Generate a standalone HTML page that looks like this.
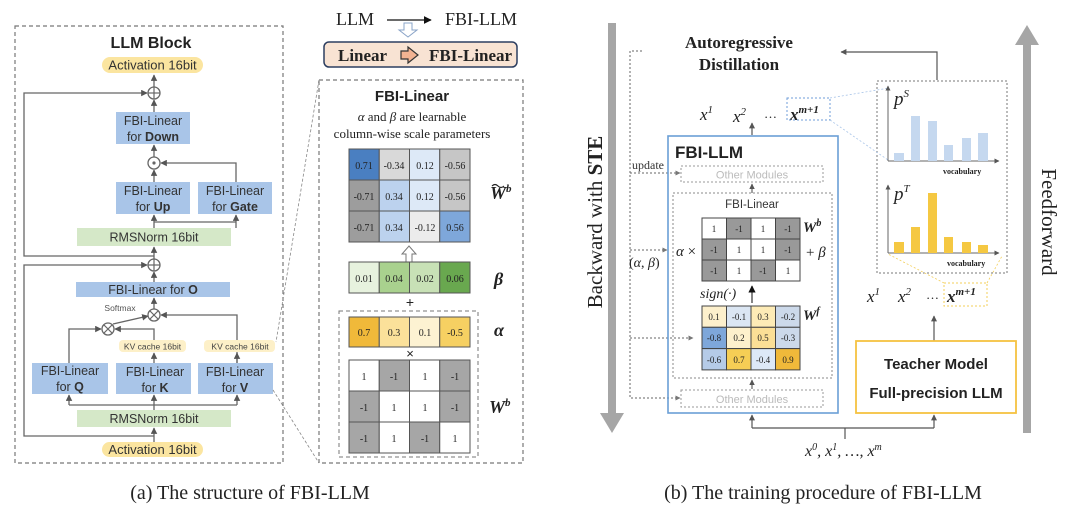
<!DOCTYPE html>
<html><head><meta charset="utf-8"><style>
html,body{margin:0;padding:0;background:#fff;}
svg{display:block;}
.s{font-family:"Liberation Sans","DejaVu Sans",sans-serif;}
.r{font-family:"Liberation Serif",serif;}
</style></head><body>
<svg width="1080" height="511" viewBox="0 0 1080 511" xmlns="http://www.w3.org/2000/svg">
<defs>
<marker id="a" viewBox="0 0 10 10" refX="9" refY="5" markerWidth="5" markerHeight="5" orient="auto"><path d="M0,0L10,5L0,10z" fill="#555"/></marker>
<marker id="ab" viewBox="0 0 10 10" refX="9" refY="5" markerWidth="6" markerHeight="6" orient="auto"><path d="M0,0L10,5L0,10z" fill="#111"/></marker>
<marker id="ag" viewBox="0 0 10 10" refX="9" refY="5" markerWidth="5" markerHeight="5" orient="auto"><path d="M0,0L10,5L0,10z" fill="#777"/></marker>
</defs>

<!-- ===== (a) left block ===== -->
<rect x="15" y="26" width="268" height="437" fill="none" stroke="#777" stroke-width="1.2" stroke-dasharray="4,3"/>
<text x="151" y="48" text-anchor="middle" class="s" font-size="16" font-weight="bold" fill="#222">LLM Block</text>

<g stroke="#666" stroke-width="1.3" fill="none">
<line x1="154" y1="87" x2="154" y2="75" marker-end="url(#a)"/>
<line x1="154" y1="112" x2="154" y2="100" marker-end="url(#a)"/>
<line x1="154" y1="157" x2="154" y2="145" marker-end="url(#a)"/>
<line x1="154" y1="182" x2="154" y2="170" marker-end="url(#a)"/>
<polyline points="236,182 236,163 161,163" marker-end="url(#a)"/>
<line x1="154" y1="228" x2="154" y2="215" marker-end="url(#a)"/>
<line x1="154" y1="222" x2="236" y2="222"/>
<line x1="236" y1="228" x2="236" y2="215" marker-end="url(#a)"/>
<line x1="154" y1="259" x2="154" y2="247" marker-end="url(#a)"/>
<polyline points="154,256 24,256 24,93 147,93" marker-end="url(#a)"/>
<line x1="154" y1="282" x2="154" y2="272" marker-end="url(#a)"/>
<line x1="154" y1="309" x2="154" y2="298" marker-end="url(#a)"/>
<polyline points="237,363 237,315 161,315" marker-end="url(#a)"/>
<polyline points="154,340 154,329 115,329" marker-end="url(#a)"/>
<polyline points="69,363 69,329 101,329" marker-end="url(#a)"/>
<line x1="113" y1="324" x2="148" y2="316" marker-end="url(#a)"/>
<line x1="154" y1="363" x2="154" y2="353" marker-end="url(#a)"/>
<line x1="237" y1="363" x2="237" y2="353" marker-end="url(#a)"/>
<line x1="69" y1="405" x2="237" y2="405"/>
<line x1="69" y1="405" x2="69" y2="395" marker-end="url(#a)"/>
<line x1="154" y1="410" x2="154" y2="395" marker-end="url(#a)"/>
<line x1="237" y1="405" x2="237" y2="395" marker-end="url(#a)"/>
<line x1="154" y1="442" x2="154" y2="428" marker-end="url(#a)"/>
<polyline points="154,436 24,436 24,265 147,265" marker-end="url(#a)"/>
</g>
<g stroke="#666" stroke-width="1.3" fill="#fff">
<circle cx="154" cy="93" r="6"/><circle cx="154" cy="163" r="6"/><circle cx="154" cy="265" r="6"/>
<circle cx="154" cy="315" r="6"/><circle cx="108" cy="329" r="6"/>
</g>
<g stroke="#666" stroke-width="1.2">
<line x1="148" y1="93" x2="160" y2="93"/><line x1="154" y1="87" x2="154" y2="99"/>
<line x1="148" y1="265" x2="160" y2="265"/><line x1="154" y1="259" x2="154" y2="271"/>
<line x1="150" y1="311" x2="158" y2="319"/><line x1="158" y1="311" x2="150" y2="319"/>
<line x1="104" y1="325" x2="112" y2="333"/><line x1="112" y1="325" x2="104" y2="333"/>
</g>
<circle cx="154" cy="163" r="1.6" fill="#666"/>

<rect x="102" y="57" width="101" height="16" rx="8" fill="#fbe5a0"/>
<text x="152.5" y="69.5" text-anchor="middle" class="s" font-size="13" fill="#333">Activation 16bit</text>
<rect x="102" y="442" width="101" height="15" rx="7.5" fill="#fbe5a0"/>
<text x="152.5" y="454" text-anchor="middle" class="s" font-size="13" fill="#333">Activation 16bit</text>

<g fill="#a9c5e8">
<rect x="116" y="112" width="74" height="32"/>
<rect x="116" y="182" width="74" height="32"/>
<rect x="198" y="182" width="74" height="32"/>
<rect x="76" y="282" width="154" height="15"/>
<rect x="32" y="363" width="76" height="31"/>
<rect x="116" y="363" width="75" height="31"/>
<rect x="198" y="363" width="75" height="31"/>
</g>
<g class="s" font-size="12.5" fill="#333" text-anchor="middle">
<text x="153" y="125">FBI-Linear</text><text x="153" y="141">for <tspan font-weight="bold">Down</tspan></text>
<text x="153" y="195">FBI-Linear</text><text x="153" y="211">for <tspan font-weight="bold">Up</tspan></text>
<text x="235" y="195">FBI-Linear</text><text x="235" y="211">for <tspan font-weight="bold">Gate</tspan></text>
<text x="153" y="294">FBI-Linear for <tspan font-weight="bold">O</tspan></text>
<text x="70" y="375">FBI-Linear</text><text x="70" y="391">for <tspan font-weight="bold">Q</tspan></text>
<text x="155" y="376">FBI-Linear</text><text x="155" y="392">for <tspan font-weight="bold">K</tspan></text>
<text x="235" y="376">FBI-Linear</text><text x="235" y="392">for <tspan font-weight="bold">V</tspan></text>
</g>
<rect x="77" y="228" width="154" height="18" fill="#d5e8c8"/>
<rect x="77" y="410" width="154" height="17" fill="#d5e8c8"/>
<g class="s" font-size="12.5" fill="#333" text-anchor="middle">
<text x="154" y="241.5">RMSNorm 16bit</text><text x="154" y="423">RMSNorm 16bit</text>
</g>
<text x="120" y="311" text-anchor="middle" class="s" font-size="8.5" fill="#555">Softmax</text>
<rect x="119" y="340" width="67" height="12" rx="4" fill="#fdf0c8"/>
<rect x="204" y="340" width="71" height="12" rx="4" fill="#fdf0c8"/>
<g class="s" font-size="8.5" fill="#444" text-anchor="middle">
<text x="152.5" y="349.5">KV cache 16bit</text><text x="240" y="349.5">KV cache 16bit</text>
</g>

<g stroke="#888" stroke-width="0.8" stroke-dasharray="3,2">
<line x1="319" y1="80" x2="276" y2="342"/>
<line x1="273" y1="390" x2="319" y2="463"/>
</g>

<text x="336" y="25" class="r" font-size="18" fill="#222">LLM</text>
<line x1="387" y1="20" x2="431" y2="20" stroke="#111" stroke-width="1.3" marker-end="url(#ab)"/>
<text x="445" y="25" class="r" font-size="18" fill="#222">FBI-LLM</text>
<path d="M404,23 h8 v7 h5 l-9,7 l-9,-7 h5z" fill="#fff" stroke="#8aa4c8" stroke-width="1"/>
<rect x="324" y="42" width="193" height="25" rx="5" fill="#f8e3d3" stroke="#2c3e60" stroke-width="1.5"/>
<text x="338" y="61" class="r" font-size="17" font-weight="bold" fill="#222">Linear</text>
<path d="M401,51 h7 v-4 l10,8 l-10,8 v-4 h-7z" fill="#f2b392" stroke="#333" stroke-width="1.2"/>
<text x="429" y="61" class="r" font-size="17" font-weight="bold" fill="#222">FBI-Linear</text>

<rect x="319" y="80" width="204" height="383" fill="none" stroke="#777" stroke-width="1.2" stroke-dasharray="4,3"/>
<text x="412" y="101" text-anchor="middle" class="s" font-size="15" font-weight="bold" fill="#222">FBI-Linear</text>
<text x="412" y="121" text-anchor="middle" class="r" font-size="13" fill="#222"><tspan font-style="italic">α</tspan> and <tspan font-style="italic">β</tspan> are learnable</text>
<text x="412" y="138" text-anchor="middle" class="r" font-size="13" fill="#222">column-wise scale parameters</text>

<g stroke="#555" stroke-width="1">
<rect x="349" y="149" width="30.25" height="31" fill="#4a7fc1"/>
<rect x="379.25" y="149" width="30.25" height="31" fill="#d9d9d9"/>
<rect x="409.5" y="149" width="30.25" height="31" fill="#dde9f7"/>
<rect x="439.75" y="149" width="30.25" height="31" fill="#c6c6c6"/>
<rect x="349" y="180" width="30.25" height="31" fill="#9d9d9d"/>
<rect x="379.25" y="180" width="30.25" height="31" fill="#bcd2ee"/>
<rect x="409.5" y="180" width="30.25" height="31" fill="#dde9f7"/>
<rect x="439.75" y="180" width="30.25" height="31" fill="#c6c6c6"/>
<rect x="349" y="211" width="30.25" height="31" fill="#9d9d9d"/>
<rect x="379.25" y="211" width="30.25" height="31" fill="#bcd2ee"/>
<rect x="409.5" y="211" width="30.25" height="31" fill="#ececec"/>
<rect x="439.75" y="211" width="30.25" height="31" fill="#7ea7da"/>
</g>
<g class="r" font-size="10" fill="#222" text-anchor="middle">
<text x="364" y="169">0.71</text><text x="394" y="169">-0.34</text><text x="425" y="169">0.12</text><text x="455" y="169">-0.56</text>
<text x="364" y="200">-0.71</text><text x="394" y="200">0.34</text><text x="425" y="200">0.12</text><text x="455" y="200">-0.56</text>
<text x="364" y="231">-0.71</text><text x="394" y="231">0.34</text><text x="425" y="231">-0.12</text><text x="455" y="231">0.56</text>
</g>
<text x="490" y="199" class="r" font-size="18" font-weight="bold" font-style="italic" fill="#222">W<tspan font-size="11" dy="-7">b</tspan></text>
<path d="M492,186 q3,-3 6,0 t6,0" fill="none" stroke="#222" stroke-width="1.2"/>
<path d="M406,262 v-8 h-4 l7,-8 l7,8 h-4 v8z" fill="#fff" stroke="#777" stroke-width="1"/>

<g stroke="#555" stroke-width="1">
<rect x="349" y="262" width="30.25" height="31" fill="#e7f2de"/>
<rect x="379.25" y="262" width="30.25" height="31" fill="#a9d18e"/>
<rect x="409.5" y="262" width="30.25" height="31" fill="#c8e1b6"/>
<rect x="439.75" y="262" width="30.25" height="31" fill="#69a84f"/>
</g>
<g class="r" font-size="10" fill="#222" text-anchor="middle">
<text x="364" y="282">0.01</text><text x="394" y="282">0.04</text><text x="425" y="282">0.02</text><text x="455" y="282">0.06</text>
</g>
<text x="494" y="285" class="r" font-size="18" font-weight="bold" font-style="italic" fill="#222">β</text>
<text x="410" y="307" text-anchor="middle" class="s" font-size="14" fill="#222">+</text>
<rect x="339" y="311" width="139" height="146" fill="none" stroke="#777" stroke-width="1" stroke-dasharray="4,3"/>
<g stroke="#555" stroke-width="1">
<rect x="349" y="317" width="30.25" height="30" fill="#f0b93a"/>
<rect x="379.25" y="317" width="30.25" height="30" fill="#fbe19a"/>
<rect x="409.5" y="317" width="30.25" height="30" fill="#fdf2d2"/>
<rect x="439.75" y="317" width="30.25" height="30" fill="#f6d062"/>
</g>
<g class="r" font-size="10" fill="#222" text-anchor="middle">
<text x="364" y="336">0.7</text><text x="394" y="336">0.3</text><text x="425" y="336">0.1</text><text x="455" y="336">-0.5</text>
</g>
<text x="494" y="336" class="r" font-size="18" font-weight="bold" font-style="italic" fill="#222">α</text>
<text x="410" y="358" text-anchor="middle" class="s" font-size="13" fill="#222">×</text>
<g stroke="#555" stroke-width="1">
<rect x="349" y="360" width="30.25" height="31" fill="#fff"/><rect x="379.25" y="360" width="30.25" height="31" fill="#a6a6a6"/><rect x="409.5" y="360" width="30.25" height="31" fill="#fff"/><rect x="439.75" y="360" width="30.25" height="31" fill="#a6a6a6"/>
<rect x="349" y="391" width="30.25" height="31" fill="#a6a6a6"/><rect x="379.25" y="391" width="30.25" height="31" fill="#fff"/><rect x="409.5" y="391" width="30.25" height="31" fill="#fff"/><rect x="439.75" y="391" width="30.25" height="31" fill="#a6a6a6"/>
<rect x="349" y="422" width="30.25" height="31" fill="#a6a6a6"/><rect x="379.25" y="422" width="30.25" height="31" fill="#fff"/><rect x="409.5" y="422" width="30.25" height="31" fill="#a6a6a6"/><rect x="439.75" y="422" width="30.25" height="31" fill="#fff"/>
</g>
<g class="r" font-size="10" fill="#222" text-anchor="middle">
<text x="364" y="380">1</text><text x="394" y="380">-1</text><text x="425" y="380">1</text><text x="455" y="380">-1</text>
<text x="364" y="411">-1</text><text x="394" y="411">1</text><text x="425" y="411">1</text><text x="455" y="411">-1</text>
<text x="364" y="442">-1</text><text x="394" y="442">1</text><text x="425" y="442">-1</text><text x="455" y="442">1</text>
</g>
<text x="489" y="413" class="r" font-size="18" font-weight="bold" font-style="italic" fill="#222">W<tspan font-size="11" dy="-7">b</tspan></text>

<text x="250" y="499" text-anchor="middle" class="r" font-size="20" fill="#222">(a) The structure of FBI-LLM</text>

<!-- ===== (b) ===== -->
<path d="M608,23 h8 v390 h8 l-12,20 l-12,-20 h8z" fill="#a6a6a6"/>
<text transform="translate(602,222) rotate(-90)" text-anchor="middle" class="r" font-size="21" fill="#222">Backward with <tspan font-weight="bold">STE</tspan></text>
<path d="M1023,433 h8 v-388 h8 l-12,-20 l-12,20 h8z" fill="#a6a6a6"/>
<text transform="translate(1042,222) rotate(90)" text-anchor="middle" class="r" font-size="21" fill="#222">Feedforward</text>

<text x="739" y="48" text-anchor="middle" class="r" font-size="17" font-weight="bold" fill="#222">Autoregressive</text>
<text x="739" y="70" text-anchor="middle" class="r" font-size="17" font-weight="bold" fill="#222">Distillation</text>
<polyline points="937,80 937,52 841,52" fill="none" stroke="#555" stroke-width="1.2" marker-end="url(#a)"/>

<g stroke="#666" stroke-width="1" stroke-dasharray="2,2" fill="none">
<polyline points="642,51 630,51 630,398 680,398" marker-end="url(#ag)"/>
<line x1="630" y1="173" x2="680" y2="173" marker-end="url(#ag)"/>
<line x1="630" y1="250" x2="667" y2="250" marker-end="url(#ag)"/>
<line x1="630" y1="338" x2="693" y2="338" marker-end="url(#ag)"/>
</g>
<text x="632" y="169" class="r" font-size="12" fill="#333">update</text>
<text x="629" y="267" class="r" font-size="14" fill="#222">(<tspan font-style="italic">α</tspan>, <tspan font-style="italic">β</tspan>)</text>

<g class="r" font-size="17" font-style="italic" fill="#222">
<text x="700" y="120">x<tspan font-size="11" dy="-7">1</tspan></text>
<text x="733" y="122">x<tspan font-size="11" dy="-7">2</tspan></text>
<text x="764" y="118" font-style="normal" font-size="13">…</text>
<text x="790" y="120" font-weight="bold">x<tspan font-size="11" dy="-7">m+1</tspan></text>
</g>
<rect x="787" y="98" width="43" height="22" fill="none" stroke="#6f9ed8" stroke-width="1" stroke-dasharray="2,2"/>
<line x1="752" y1="135" x2="752" y2="123" stroke="#555" stroke-width="1.2" marker-end="url(#a)"/>

<rect x="668" y="136" width="170" height="277" fill="none" stroke="#6a9fd6" stroke-width="1.6"/>
<text x="675" y="158" class="s" font-size="17" font-weight="bold" fill="#222">FBI-LLM</text>
<rect x="681" y="166" width="142" height="16" fill="none" stroke="#999" stroke-dasharray="2,2"/>
<text x="752" y="178.5" text-anchor="middle" class="s" font-size="11" fill="#bbb">Other Modules</text>
<line x1="752" y1="193" x2="752" y2="184" stroke="#555" stroke-width="1.1" marker-end="url(#a)"/>
<rect x="673" y="193" width="159" height="185" fill="none" stroke="#888" stroke-dasharray="2,2"/>
<text x="752" y="208" text-anchor="middle" class="s" font-size="11.5" fill="#333">FBI-Linear</text>
<g stroke="#444" stroke-width="1">
<rect x="702" y="218" width="24.5" height="21" fill="#fff"/><rect x="726.5" y="218" width="24.5" height="21" fill="#999"/><rect x="751" y="218" width="24.5" height="21" fill="#fff"/><rect x="775.5" y="218" width="24.5" height="21" fill="#999"/>
<rect x="702" y="239" width="24.5" height="21" fill="#999"/><rect x="726.5" y="239" width="24.5" height="21" fill="#fff"/><rect x="751" y="239" width="24.5" height="21" fill="#fff"/><rect x="775.5" y="239" width="24.5" height="21" fill="#999"/>
<rect x="702" y="260" width="24.5" height="21" fill="#999"/><rect x="726.5" y="260" width="24.5" height="21" fill="#fff"/><rect x="751" y="260" width="24.5" height="21" fill="#999"/><rect x="775.5" y="260" width="24.5" height="21" fill="#fff"/>
</g>
<g class="r" font-size="9" fill="#222" text-anchor="middle">
<text x="714" y="232">1</text><text x="739" y="232">-1</text><text x="763" y="232">1</text><text x="788" y="232">-1</text>
<text x="714" y="253">-1</text><text x="739" y="253">1</text><text x="763" y="253">1</text><text x="788" y="253">-1</text>
<text x="714" y="274">-1</text><text x="739" y="274">1</text><text x="763" y="274">-1</text><text x="788" y="274">1</text>
</g>
<text x="676" y="256" class="r" font-size="15" fill="#222"><tspan font-style="italic">α</tspan> ×</text>
<text x="803" y="232" class="r" font-size="15" font-weight="bold" font-style="italic" fill="#222">W<tspan font-size="10" dy="-6">b</tspan></text>
<text x="806" y="257" class="r" font-size="15" fill="#222">+ <tspan font-style="italic">β</tspan></text>
<text x="700" y="298" class="r" font-size="14" font-style="italic" fill="#222">sign(·)</text>
<line x1="752" y1="303" x2="752" y2="286" stroke="#333" stroke-width="1.2" marker-end="url(#ab)"/>
<g stroke="#444" stroke-width="1">
<rect x="702" y="306" width="24.5" height="21.3" fill="#fdf0cc"/><rect x="726.5" y="306" width="24.5" height="21.3" fill="#dbe6f3"/><rect x="751" y="306" width="24.5" height="21.3" fill="#fdebb6"/><rect x="775.5" y="306" width="24.5" height="21.3" fill="#ccd9ea"/>
<rect x="702" y="327.3" width="24.5" height="21.3" fill="#7ea7da"/><rect x="726.5" y="327.3" width="24.5" height="21.3" fill="#fdf0cc"/><rect x="751" y="327.3" width="24.5" height="21.3" fill="#fbdf96"/><rect x="775.5" y="327.3" width="24.5" height="21.3" fill="#ccd9ea"/>
<rect x="702" y="348.6" width="24.5" height="21.3" fill="#b5cbe8"/><rect x="726.5" y="348.6" width="24.5" height="21.3" fill="#f6ce55"/><rect x="751" y="348.6" width="24.5" height="21.3" fill="#dde9f7"/><rect x="775.5" y="348.6" width="24.5" height="21.3" fill="#f0b93a"/>
</g>
<g class="r" font-size="9" fill="#222" text-anchor="middle">
<text x="714" y="320">0.1</text><text x="739" y="320">-0.1</text><text x="763" y="320">0.3</text><text x="788" y="320">-0.2</text>
<text x="714" y="341">-0.8</text><text x="739" y="341">0.2</text><text x="763" y="341">0.5</text><text x="788" y="341">-0.3</text>
<text x="714" y="363">-0.6</text><text x="739" y="363">0.7</text><text x="763" y="363">-0.4</text><text x="788" y="363">0.9</text>
</g>
<text x="803" y="320" class="r" font-size="15" font-weight="bold" font-style="italic" fill="#222">W<tspan font-size="10" dy="-6">f</tspan></text>
<line x1="752" y1="389" x2="752" y2="380" stroke="#555" stroke-width="1.1" marker-end="url(#a)"/>
<rect x="681" y="390" width="142" height="17" fill="none" stroke="#999" stroke-dasharray="2,2"/>
<text x="752" y="403" text-anchor="middle" class="s" font-size="11" fill="#bbb">Other Modules</text>

<rect x="877" y="81" width="130" height="192" fill="none" stroke="#777" stroke-dasharray="2,2"/>
<g stroke="#a8c4e8" stroke-width="0.8" stroke-dasharray="2,2">
<line x1="830" y1="98" x2="889" y2="88"/><line x1="830" y1="120" x2="888" y2="160"/>
</g>
<g stroke="#f3cf5a" stroke-width="0.8" stroke-dasharray="2,2">
<line x1="944" y1="283" x2="888" y2="254"/><line x1="987" y1="283" x2="1002" y2="256"/>
</g>
<g stroke="#666" stroke-width="1" fill="none">
<line x1="888" y1="161" x2="888" y2="86" marker-end="url(#a)"/>
<line x1="888" y1="161" x2="999" y2="161" marker-end="url(#a)"/>
<line x1="888" y1="253" x2="888" y2="185" marker-end="url(#a)"/>
<line x1="888" y1="253" x2="999" y2="253" marker-end="url(#a)"/>
</g>
<g fill="#c5d8ef">
<rect x="894" y="153" width="10" height="8"/><rect x="911" y="116" width="9" height="45"/><rect x="928" y="121" width="9" height="40"/>
<rect x="944" y="145" width="9" height="16"/><rect x="962" y="138" width="9" height="23"/><rect x="978" y="133" width="10" height="28"/>
</g>
<g fill="#f5c842">
<rect x="894" y="242" width="10" height="11"/><rect x="911" y="227" width="9" height="26"/><rect x="928" y="193" width="9" height="60"/>
<rect x="944" y="237" width="9" height="16"/><rect x="962" y="242" width="9" height="11"/><rect x="978" y="245" width="10" height="8"/>
</g>
<text x="894" y="105" class="r" font-size="19" font-style="italic" fill="#222">p<tspan font-size="11" dy="-8">S</tspan></text>
<text x="894" y="200" class="r" font-size="19" font-style="italic" fill="#222">p<tspan font-size="11" dy="-8">T</tspan></text>
<text x="943" y="174" class="r" font-size="8" font-weight="bold" fill="#222">vocabulary</text>
<text x="947" y="266" class="r" font-size="8" font-weight="bold" fill="#222">vocabulary</text>

<g class="r" font-size="17" font-style="italic" fill="#222">
<text x="867" y="302">x<tspan font-size="11" dy="-7">1</tspan></text>
<text x="898" y="302">x<tspan font-size="11" dy="-7">2</tspan></text>
<text x="926" y="299" font-style="normal" font-size="13">…</text>
<text x="947" y="302" font-weight="bold">x<tspan font-size="11" dy="-7">m+1</tspan></text>
</g>
<rect x="944" y="283" width="43" height="23" fill="none" stroke="#f3cf5a" stroke-width="1" stroke-dasharray="2,2"/>
<line x1="934" y1="341" x2="934" y2="316" stroke="#555" stroke-width="1.2" marker-end="url(#a)"/>
<rect x="856" y="341" width="160" height="72" fill="#fff" stroke="#f5c242" stroke-width="1.8"/>
<text x="936" y="369" text-anchor="middle" class="s" font-size="15" font-weight="bold" fill="#222">Teacher Model</text>
<text x="936" y="398" text-anchor="middle" class="s" font-size="15" font-weight="bold" fill="#222">Full-precision LLM</text>

<g stroke="#555" stroke-width="1.2" fill="none">
<polyline points="752,428 934,428"/>
<line x1="752" y1="428" x2="752" y2="415" marker-end="url(#a)"/>
<line x1="934" y1="428" x2="934" y2="415" marker-end="url(#a)"/>
<line x1="845" y1="428" x2="845" y2="439"/>
</g>
<text x="805" y="456" class="r" font-size="16" font-style="italic" fill="#222">x<tspan font-size="10" dy="-6">0</tspan><tspan dy="6">, x</tspan><tspan font-size="10" dy="-6">1</tspan><tspan dy="6">, …, x</tspan><tspan font-size="10" dy="-6">m</tspan></text>

<text x="823" y="499" text-anchor="middle" class="r" font-size="20" fill="#222">(b) The training procedure of FBI-LLM</text>
</svg>
</body></html>
